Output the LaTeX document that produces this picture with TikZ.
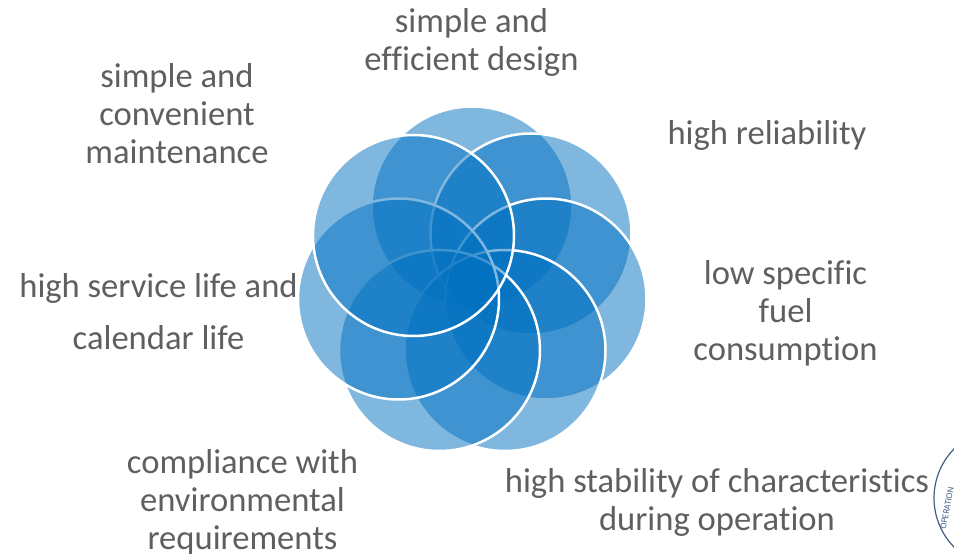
\documentclass[tikz,border=0pt]{standalone}
\usepackage{fontspec}
\setmainfont[Ligatures=NoCommon]{Carlito}
\definecolor{petal}{HTML}{0070C0}
\definecolor{labelgray}{HTML}{5F5F5F}
\definecolor{sealblue}{HTML}{3F5F86}
\tikzset{
 petal/.style={circle,draw=white,line width=2.5pt,fill=petal,fill opacity=0.5,minimum size=201pt,inner sep=0pt,outer sep=0pt},
 lbl/.style={text=labelgray,align=center,font=\fontsize{34.6}{38}\selectfont,inner sep=0pt}
}
\begin{document}
\begin{tikzpicture}[x=1pt,y=-1pt]
 \useasboundingbox (0,0) rectangle (954,554);
 % petals, clockwise from the top
 \node[petal] (top) at (472,207) {};
 \node[petal] (topright) at (531,234) {};
 \node[petal] (right) at (546,299) {};
 \node[petal] (botright) at (505,350.5) {};
 \node[petal] (botleft) at (439.5,350.5) {};
 \node[petal] (left) at (398.5,299) {};
 \node[petal] (topleft) at (413.5,235.5) {};
 % labels
 \node[lbl] (design) at (471.5,42) {simple and\\efficient design};
 \node[lbl] (reliab) at (767,135) {high reliability};
 \node[lbl] (fuel) at (785.5,313) {low specific\\fuel\\consumption};
 \node[lbl] (stable) at (717,502) {high stability of characteristics\\during operation};
 \node[lbl] (environ) at (242.5,502) {compliance with\\environmental\\requirements};
 \node[lbl,align=center] (service) at (158.5,312) {high service life and\\[14pt]calendar life};
 \node[lbl] (maint) at (177,114) {simple and\\convenient\\maintenance};
 % corner of the seal
 \begin{scope}
  \clip (900,430) rectangle (954,554);
  \draw[sealblue,line width=1.2pt] (1004,498) circle (70);
  \node[text=sealblue,font=\fontsize{9}{10}\selectfont,rotate=79,inner sep=0pt] (seal) at (947,508) {OPERATION};
 \end{scope}
\end{tikzpicture}
\end{document}
